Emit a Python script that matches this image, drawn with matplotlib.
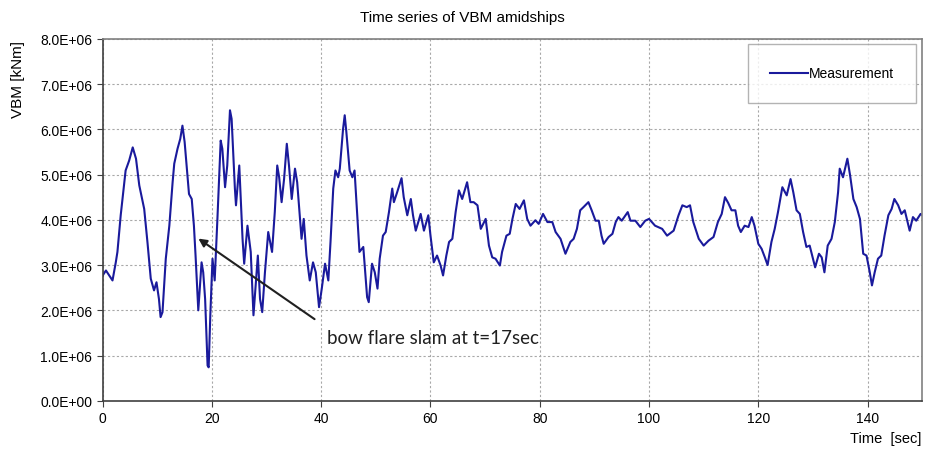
import numpy as np
import matplotlib
matplotlib.use('Agg')
import matplotlib.pyplot as plt
from matplotlib.ticker import FuncFormatter, MultipleLocator

# time [sec] and VBM [1E6 kNm]
t = [0.0, 0.6, 1.8, 2.4, 2.7, 3.3, 4.2, 4.85, 5.5, 6.1, 6.7, 7.6, 8.2, 8.8, 9.4, 9.85,
     10.3, 10.6, 10.95, 11.55, 12.2, 12.8, 13.1, 13.7, 14.2, 14.6, 15.0, 15.8, 16.3, 16.7,
     17.0, 17.5, 18.1, 18.4, 18.75, 19.2, 19.4, 19.7, 20.1, 20.5, 21.0, 21.6, 21.9, 22.4,
     22.8, 23.3, 23.6, 24.2, 24.4, 25.0, 25.6, 25.9, 26.5, 27.1, 27.6, 28.0, 28.4, 28.8,
     29.2, 29.7, 30.3, 31.0, 31.5, 31.95, 32.3, 32.75, 33.2, 33.7, 34.1, 34.6, 35.2, 35.6,
     36.4, 36.8, 37.3, 37.9, 38.5, 39.0, 39.6, 40.1, 40.7, 41.3, 41.7, 42.2, 42.6, 43.1,
     43.4, 44.0, 44.3, 44.6, 45.2, 45.7, 46.1, 46.6, 47.0, 47.7, 48.4, 48.7, 49.3, 49.8,
     50.3, 50.7, 51.3, 51.8, 52.4, 53.0, 53.3, 53.9, 54.7, 55.1, 55.75, 56.4, 56.8, 57.3,
     58.2, 58.8, 59.6, 60.0, 60.6, 61.2, 61.85, 62.3, 62.9, 63.4, 64.0, 64.6, 65.2, 65.8,
     66.7, 67.3, 67.9, 68.6, 69.2, 70.1, 70.7, 71.3, 71.9, 72.7, 73.1, 73.9, 74.5, 75.0,
     75.6, 76.3, 77.1, 77.7, 78.3, 79.2, 79.8, 80.6, 81.4, 82.3, 82.9, 83.8, 84.7, 85.6,
     86.2, 86.8, 87.4, 88.0, 88.9, 89.5, 90.2, 90.8, 91.3, 91.7, 92.6, 93.3, 93.9, 94.4,
     95.0, 96.1, 96.6, 97.5, 98.4, 99.3, 100.0, 101.1, 102.4, 103.3, 104.5, 105.4, 106.1,
     106.9, 107.5, 108.1, 109.1, 110.0, 110.9, 111.8, 112.6, 113.3, 113.9, 114.5, 115.1,
     115.8, 116.3, 116.8, 117.5, 118.2, 118.8, 119.3, 120.0, 120.6, 121.2, 121.7, 122.4,
     123.0, 123.6, 124.4, 125.2, 125.9, 126.4, 127.0, 127.6, 128.2, 128.8, 129.4, 130.4,
     131.1, 131.6, 132.1, 132.7, 133.4, 134.0, 134.6, 134.9, 135.5, 136.3, 136.8, 137.4,
     138.0, 138.6, 139.2, 139.8, 140.4, 140.8, 141.3, 141.9, 142.5, 143.1, 143.8, 144.4,
     144.9, 145.6, 146.2, 146.8, 147.7, 148.3, 148.9, 149.7, 150.0]
vbm = [2.77, 2.88, 2.66, 3.06, 3.29, 4.1, 5.09, 5.31, 5.6, 5.35, 4.76, 4.24, 3.5, 2.7, 2.44, 2.62,
       2.25, 1.85, 1.96, 3.14, 3.87, 4.83, 5.24, 5.57, 5.79, 6.08, 5.72, 4.57, 4.46, 3.87,
       3.21, 2.0, 3.06, 2.84, 2.25, 0.78, 0.74, 1.89, 3.14, 2.66, 4.02, 5.75, 5.57, 4.72,
       5.2, 6.42, 6.23, 4.69, 4.32, 5.2, 3.58, 3.03, 3.87, 3.29, 1.89, 2.55, 3.21, 2.25,
       1.96, 2.84, 3.73, 3.29, 4.17, 5.2, 4.94, 4.39, 4.9, 5.68, 5.2, 4.46, 5.13, 4.83,
       3.58, 4.02, 3.21, 2.66, 3.06, 2.84, 2.07, 2.48, 3.03, 2.66, 3.51, 4.69, 5.09, 4.94,
       5.13, 6.01, 6.31, 5.94, 5.09, 4.94, 5.09, 4.1, 3.29, 3.4, 2.29, 2.18, 3.03, 2.84,
       2.48, 3.14, 3.65, 3.73, 4.17, 4.69, 4.39, 4.61, 4.92, 4.5, 4.1, 4.46, 4.1, 3.76,
       4.13, 3.76, 4.1, 3.65, 3.06, 3.21, 2.99, 2.77, 3.21, 3.51, 3.58, 4.17, 4.65, 4.46,
       4.83, 4.39, 4.39, 4.32, 3.8, 4.02, 3.43, 3.17, 3.14, 2.99, 3.29, 3.65, 3.69, 4.02,
       4.35, 4.24, 4.43, 4.02, 3.87, 3.99, 3.91, 4.13, 3.95, 3.95, 3.73, 3.58, 3.25, 3.51,
       3.58, 3.8, 4.21, 4.28, 4.39, 4.21, 3.98, 3.98, 3.65, 3.47, 3.62, 3.69, 3.95, 4.06,
       3.98, 4.17, 3.98, 3.98, 3.84, 3.98, 4.02, 3.87, 3.8, 3.65, 3.76, 4.1, 4.32,
       4.28, 4.32, 3.95, 3.58, 3.43, 3.54, 3.62, 3.95, 4.13, 4.5, 4.37, 4.21,
       4.21, 3.87, 3.73, 3.87, 3.84, 4.06, 3.87, 3.47, 3.36, 3.17, 3.0, 3.51,
       3.8, 4.17, 4.72, 4.54, 4.9, 4.61, 4.21, 4.13, 3.73, 3.4, 3.43, 2.95,
       3.25, 3.17, 2.84, 3.43, 3.58, 3.95, 4.61, 5.13, 4.94, 5.35, 4.98, 4.46,
       4.28, 4.02, 3.25, 3.21, 2.84, 2.55, 2.84, 3.14, 3.21, 3.65, 4.1, 4.24,
       4.46, 4.32, 4.13, 4.21, 3.76, 4.06, 3.98, 4.13, 4.1]

t = np.array(t)
vbm = np.array(vbm) * 1e6

sans = ['Liberation Sans', 'DejaVu Sans']

fig = plt.figure(figsize=(9.25, 4.52), dpi=100)
ax = fig.add_axes([0.111, 0.111, 0.886, 0.801])

ax.plot(t, vbm, color='#1a1a9c', lw=1.5, label='Measurement')

ax.set_xlim(0, 150)
ax.set_ylim(0, 8e6)
ax.xaxis.set_major_locator(MultipleLocator(20))
ax.yaxis.set_major_locator(MultipleLocator(1e6))
ax.yaxis.set_major_formatter(FuncFormatter(lambda v, p: '%.1E' % v))
ax.grid(True, color='#a8a8a8', ls=(0, (2, 2)), lw=0.8)
ax.tick_params(labelsize=10, length=4, color='#404040')
for lab in ax.get_xticklabels() + ax.get_yticklabels():
    lab.set_family(sans)
for s in ['left', 'bottom']:
    ax.spines[s].set_color('#404040')
    ax.spines[s].set_linewidth(1.2)
for s in ['top', 'right']:
    ax.spines[s].set_color('#808080')
    ax.spines[s].set_linewidth(1.2)

fig.text(0.5, 0.96, 'Time series of VBM amidships', ha='center', va='center',
         fontsize=11, family=sans)
fig.text(0.02, 0.91, 'VBM [kNm]', rotation=90, ha='center', va='top',
         fontsize=11, family=sans)
fig.text(0.996, 0.028, 'Time  [sec]', ha='right', va='center',
         fontsize=10.5, family=sans)

ax.annotate('', xy=(17.1, 3.62e6), xytext=(39.2, 1.77e6),
            arrowprops=dict(arrowstyle='-|>', color='#202020', lw=1.5,
                            mutation_scale=12))
ax.text(41.0, 1.4e6, 'bow flare slam at t=17sec', fontsize=13.5,
        family=['Lato', 'DejaVu Sans'], color='#202020', va='center')

leg = ax.legend(loc='upper right', bbox_to_anchor=(0.993, 0.985), fancybox=False,
                edgecolor='#a0a0a0', fontsize=10, handlelength=2.7,
                borderpad=1.6, handletextpad=0.1, borderaxespad=0)
leg.get_frame().set_linewidth(1.0)
for txt in leg.get_texts():
    txt.set_family(sans)

fig.savefig('out.png', dpi=100)
